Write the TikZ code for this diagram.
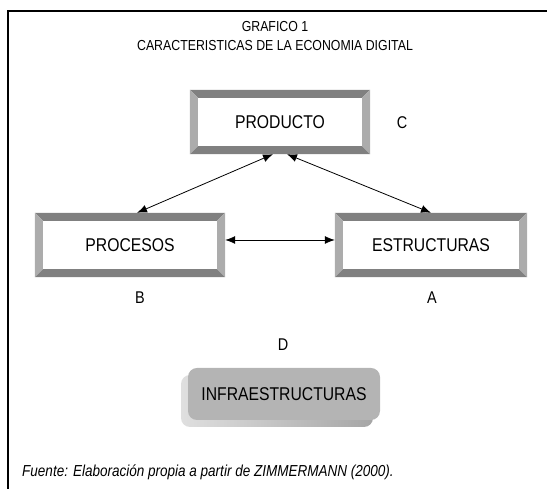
\documentclass[tikz,border=0pt]{standalone}
\usepackage{fontspec}
\setmainfont[FakeStretch=0.85]{Liberation Sans}
\usetikzlibrary{arrows.meta}

\definecolor{bevdark}{RGB}{128,128,128}
\definecolor{bevlight}{RGB}{172,172,172}
\definecolor{infragray}{RGB}{180,180,180}

\tikzset{
  framebox/.style={fill=white, inner sep=0pt, font=\fontsize{18.5}{21}\selectfont},
  link/.style={{Latex[length=10pt,width=8pt]}-{Latex[length=10pt,width=8pt]}, line width=0.8pt},
  letter/.style={font=\fontsize{14.5}{17}\selectfont},
  mark letter/.style={font=\fontsize{17}{20}\selectfont},
}

% bevelled border round a named node
\newcommand{\bevelframe}[1]{%
  \fill[bevdark] (#1.north west) -- (#1.north east) -- ([shift={(-8pt,-8pt)}]#1.north east) -- ([shift={(8pt,-8pt)}]#1.north west) -- cycle;
  \fill[bevdark] (#1.south west) -- (#1.south east) -- ([shift={(-8pt,8pt)}]#1.south east) -- ([shift={(8pt,8pt)}]#1.south west) -- cycle;
  \fill[bevlight] (#1.north west) -- ([shift={(8pt,-8pt)}]#1.north west) -- ([shift={(8pt,8pt)}]#1.south west) -- (#1.south west) -- cycle;
  \fill[bevlight] (#1.north east) -- ([shift={(-8pt,-8pt)}]#1.north east) -- ([shift={(-8pt,8pt)}]#1.south east) -- (#1.south east) -- cycle;
}

\begin{document}
\begin{tikzpicture}[x=1pt,y=1pt]
  \useasboundingbox (0,0) rectangle (547,489);
  \draw[line width=1.2pt] (8,0) -- (8,478) -- (547,478);

  \node[letter] (titulo) at (275,462) {GRAFICO 1};
  \node[letter] (subtitulo) at (275,443) {CARACTERISTICAS DE LA ECONOMIA DIGITAL};

  \node[framebox, minimum width=180pt, minimum height=64pt] (producto) at (280,367) {PRODUCTO};
  \node[framebox, minimum width=190pt, minimum height=64pt] (procesos) at (130,244) {PROCESOS};
  \node[framebox, minimum width=192pt, minimum height=64pt] (estructuras) at (431,244) {ESTRUCTURAS};
  \bevelframe{producto}
  \bevelframe{procesos}
  \bevelframe{estructuras}

  \node[mark letter] (letraC) at (402,366) {C};
  \node[mark letter] (letraB) at (140,191) {B};
  \node[mark letter] (letraA) at (432,191) {A};
  \node[mark letter] (letraD) at (283,144) {D};

  \draw[link] ([xshift=-7pt]producto.south) -- ([xshift=7pt]procesos.north);
  \draw[link] ([xshift=7pt]producto.south) -- (estructuras.north);
  \draw[link] ([yshift=5pt]procesos.east) -- ([yshift=5pt]estructuras.west);

  \node[rounded corners=9pt, left color=gray!25, right color=gray!70, minimum width=192pt, minimum height=52pt] (infrasombra) at (277,88) {};
  \node[framebox, fill=infragray, rounded corners=9pt, minimum width=192pt, minimum height=52pt] (infra) at (284,95) {INFRAESTRUCTURAS};

  \node[letter, font=\fontsize{15.9}{18}\selectfont\itshape, anchor=west, inner sep=0pt] (fuente) at (22,17) {Fuente: Elaboración propia a partir de ZIMMERMANN (2000).};
\end{tikzpicture}
\end{document}
